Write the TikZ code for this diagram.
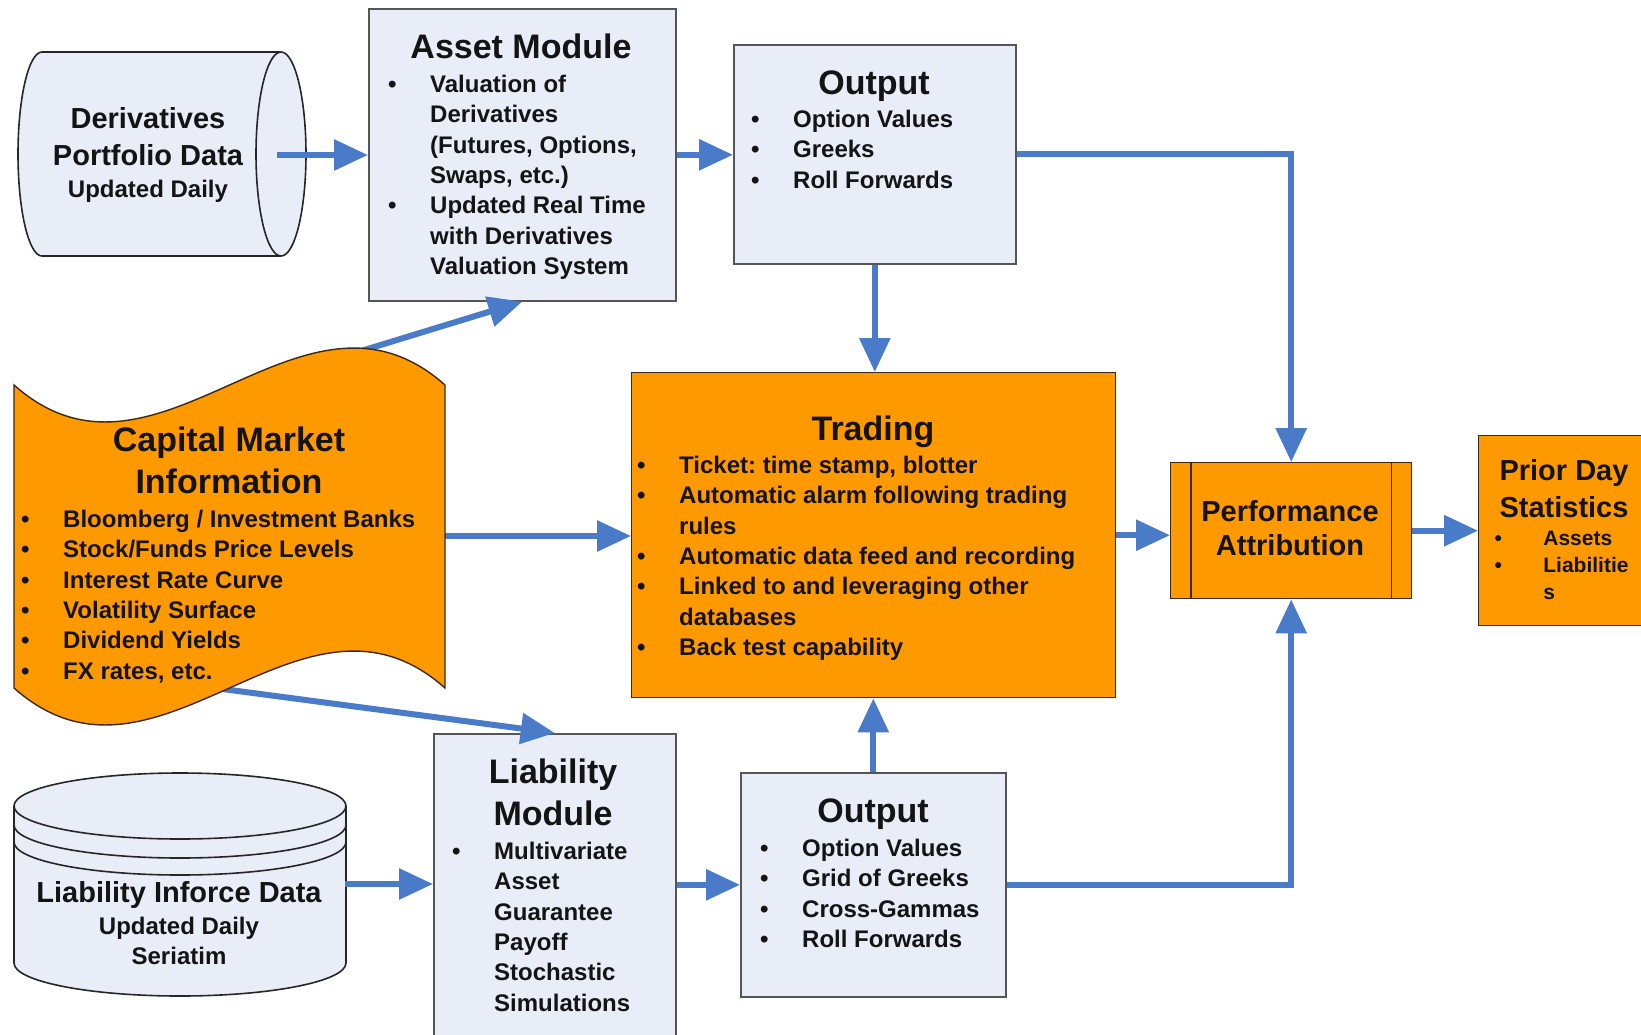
\documentclass[tikz,border=0pt]{standalone}
\usepackage{fontspec}
\setmainfont{Liberation Sans}
\usetikzlibrary{arrows.meta}
\definecolor{boxblue}{RGB}{232,237,247}
\definecolor{orng}{RGB}{255,153,0}
\definecolor{arrowblue}{RGB}{74,123,200}
\definecolor{boxline}{RGB}{85,85,85}
\definecolor{orline}{RGB}{60,40,20}
\definecolor{txt}{RGB}{20,20,20}
\newcommand\bul[1][42pt]{\makebox[#1][l]{•}}
\newcommand\ind[1][42pt]{\hspace*{#1}}
\frenchspacing
\begin{document}
\begin{tikzpicture}[x=1pt,y=-1pt,
  bluebox/.style={draw=boxline, fill=boxblue, line width=1.6pt, rectangle, inner sep=0pt, anchor=north west},
  orangebox/.style={draw=orline, fill=orng, line width=1.4pt, rectangle, inner sep=0pt, anchor=north west},
  cylstyle/.style={draw=black!85, fill=boxblue, line width=1.6pt},
  tapestyle/.style={draw=orline, fill=orng, line width=1.4pt},
  conn/.style={draw=arrowblue, line width=6pt, -{Triangle[length=34pt,width=30pt]}},
  titletxt/.style={font=\bfseries\fontsize{34}{42}\selectfont, text=txt, inner sep=0pt, align=center, anchor=base},
  subtxt/.style={font=\bfseries\fontsize{29}{37}\selectfont, text=txt, inner sep=0pt, align=center, anchor=base},
  bodytxt/.style={font=\bfseries\fontsize{24}{30.3}\selectfont, text=txt, inner sep=0pt, align=left, anchor=base west},
  smalltxt/.style={font=\bfseries\fontsize{21}{27}\selectfont, text=txt, inner sep=0pt, align=left, anchor=base west},
]
\useasboundingbox (0,0) rectangle (1641,1034);
\fill[white] (0,0) rectangle (1641,1034);
\clip (0,0) rectangle (1641,1034);

% boxes
\node[bluebox, minimum width=307pt, minimum height=292pt] (asset) at (368,8) {};
\node[bluebox, minimum width=282pt, minimum height=219pt] (out1) at (733,44) {};
\node[orangebox, minimum width=484pt, minimum height=325pt] (trading) at (631,372) {};
\node[orangebox, minimum width=241pt, minimum height=136pt] (perf) at (1170,462) {};
\node[orangebox, minimum width=190pt, minimum height=190pt] (prior) at (1478,435) {};
\node[bluebox, minimum width=242pt, minimum height=310pt] (liab) at (433,733) {};
\node[bluebox, minimum width=265pt, minimum height=224pt] (out2) at (740,772) {};
\draw[orline, line width=1.4pt] ([xshift=21pt]perf.north west) -- ([xshift=21pt]perf.south west);
\draw[orline, line width=1.4pt] ([xshift=-21pt]perf.north east) -- ([xshift=-21pt]perf.south east);

% derivatives cylinder (horizontal)
\path[cylstyle] (281,52) -- (42,52) arc[start angle=270, end angle=90, x radius=24, y radius=102]
  -- (281,256) arc[start angle=90, end angle=-90, x radius=25, y radius=102] -- cycle;
\draw[cylstyle, fill=none] (281,52) arc[start angle=-90, end angle=-270, x radius=25, y radius=102];

% liability cylinder (vertical)
\path[cylstyle] (14,806) -- (14,963) arc[start angle=180, end angle=0, x radius=166, y radius=33]
  -- (346,806) arc[start angle=0, end angle=-180, x radius=166, y radius=33] -- cycle;
\draw[cylstyle, fill=none] (14,806) arc[start angle=180, end angle=0, x radius=166, y radius=33];
\draw[cylstyle, fill=none] (14,825) arc[start angle=180, end angle=0, x radius=166, y radius=33];
\draw[cylstyle, fill=none] (14,842) arc[start angle=180, end angle=0, x radius=166, y radius=33];

% connector end coordinates
\coordinate (derivR) at (277,155);
\coordinate (cmiR) at (445,536);
\coordinate (cmiTop) at (250,385);
\coordinate (cmiBot) at (200,686);
\coordinate (lcylR) at (345,884);

% connectors
\draw[conn] (derivR) -- (derivR -| asset.west);
\draw[conn] (asset.east) -- (asset.east -| out1.west);
\draw[conn] (out1.east) -| (perf.north);
\draw[conn] (out1.south) -- (out1.south |- trading.north);
\draw[conn] (cmiR) -- (cmiR -| trading.west);
\draw[conn] (cmiTop) -- (asset.south);
\draw[conn] (cmiBot) -- (liab.north);
\draw[conn] (trading.east) -- (trading.east -| perf.west);
\draw[conn] (perf.east) -- (perf.east -| prior.west);
\draw[conn] (lcylR) -- (lcylR -| liab.west);
\draw[conn] (out2.west -| liab.east) -- (out2.west);
\draw[conn] (out2.north) -- (out2.north |- trading.south);
\draw[conn] (out2.east) -| (perf.south);

% capital market tape shape
\path[tapestyle] (14,385) .. controls (158,513) and (301,257) .. (445,385) -- (445,688)
  .. controls (301,560) and (158,816) .. (14,688) -- cycle;

% texts (multi-line nodes: base anchor = baseline of last line)
\node[subtxt] (deriv-t) at (148,165.4) {Derivatives\\Portfolio Data};
\node[bodytxt, anchor=base, align=center] (deriv-s) at (148,197.6) {Updated Daily};

\node[titletxt] (asset-t) at (521,58) {Asset Module};
\node[bodytxt] (asset-l) at (388,274.4) {\bul Valuation of\\\ind Derivatives\\\ind (Futures, Options,\\\ind Swaps, etc.)\\\bul Updated Real Time\\\ind with Derivatives\\\ind Valuation System};

\node[titletxt] (out1-t) at (874,94) {Output};
\node[bodytxt] (out1-l) at (751,188.2) {\bul Option Values\\\bul Greeks\\\bul Roll Forwards};

\node[titletxt] (trade-t) at (873,440) {Trading};
\node[bodytxt] (trade-l) at (637,655.4) {\bul Ticket: time stamp, blotter\\\bul Automatic alarm following trading\\\ind rules\\\bul Automatic data feed and recording\\\bul Linked to and leveraging other\\\ind databases\\\bul Back test capability};

\node[titletxt] (cmi-t) at (229,493) {Capital Market\\Information};
\node[bodytxt] (cmi-l) at (21,679.1) {\bul Bloomberg / Investment Banks\\\bul Stock/Funds Price Levels\\\bul Interest Rate Curve\\\bul Volatility Surface\\\bul Dividend Yields\\\bul FX rates, etc.};

\node[subtxt, font=\bfseries\fontsize{29}{34}\selectfont] (perf-t) at (1290,555.4) {Performance\\Attribution};

\node[subtxt] (prior-t) at (1564,517.4) {Prior Day\\Statistics};
\node[smalltxt] (prior-l) at (1494.3,599.5) {\bul[43pt] Assets\\\bul[43pt] Liabilitie\\\ind[43pt] s};

\node[subtxt] (lcyl-t) at (179,902.4) {Liability Inforce Data};
\node[bodytxt, anchor=base, align=center, font=\bfseries\fontsize{24}{30}\selectfont] (lcyl-s) at (179,964.6) {Updated Daily\\Seriatim};

\node[titletxt] (liab-t) at (553,825) {Liability\\Module};
\node[bodytxt] (liab-l) at (452,1011.1) {\bul Multivariate\\\ind Asset\\\ind Guarantee\\\ind Payoff\\\ind Stochastic\\\ind Simulations};

\node[titletxt] (out2-t) at (873,822) {Output};
\node[bodytxt] (out2-l) at (760,947.5) {\bul Option Values\\\bul Grid of Greeks\\\bul Cross-Gammas\\\bul Roll Forwards};
\end{tikzpicture}
\end{document}
